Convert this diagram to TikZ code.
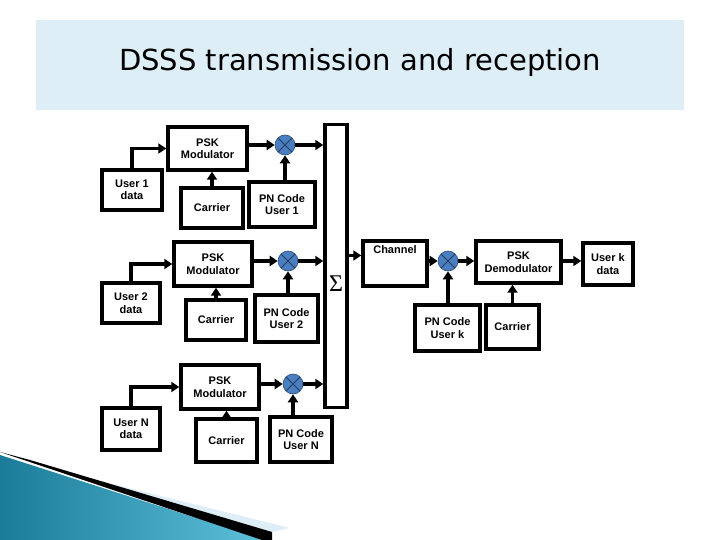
\documentclass[tikz,border=0pt]{standalone}
\usepackage{fontspec}
\setmainfont{Liberation Sans}
\newfontfamily\titlefont{DejaVu Sans}
\newfontfamily\sigfont{Liberation Serif}
\usetikzlibrary{arrows.meta}
\definecolor{band}{HTML}{DDEEF6}
\definecolor{mix}{HTML}{4A7EC0}
\definecolor{tealA}{HTML}{1A7C98}
\definecolor{tealB}{HTML}{5FC0DC}
\begin{document}
\begin{tikzpicture}[x=1pt,y=-1pt,
 blk/.style={draw,line width=3.4pt,fill=white,align=center,inner sep=0pt,font=\bfseries\fontsize{11}{12.5}\selectfont},
 mixer/.style={circle,draw=mix!60!black,fill=mix,minimum size=20pt,inner sep=0pt,line width=0.6pt,
   path picture={\draw[mix!50!black,line width=0.8pt] (path picture bounding box.north west) -- (path picture bounding box.south east) (path picture bounding box.north east) -- (path picture bounding box.south west);}},
 arr/.style={line width=3.2pt,-{Triangle[length=8pt,width=10pt]}}]
\useasboundingbox (0,0) rectangle (720,540);
\fill[band] (36,20) rectangle (684,110);
\node[font=\titlefont\fontsize{29}{32}\selectfont] (title) at (360,63) {DSSS transmission and reception};
% decoration
\shade[left color=tealA,right color=tealB] (0,455) -- (265,540) -- (0,540) -- cycle;
\fill[band] (40,466) -- (290,528) -- (272,532) -- cycle;
\fill[black] (0,452) -- (30,460) -- (272,532) -- (272,540) -- (262,540) -- cycle;
\def\bx#1#2#3#4#5#6{\node[blk,minimum width=#4-#2,minimum height=#5-#3] (#1) at ({(#2+#4)/2},{(#3+#5)/2}) {#6};}
% Transmitter 1
\bx{d1}{102}{170}{162}{210}{User 1\\data}
\bx{m1}{168}{127}{247}{170}{PSK\\Modulator}
\bx{c1}{181}{188}{243}{228}{Carrier}
\bx{p1}{249}{182}{315}{227}{PN Code\\User 1}
\node[mixer] (x1) at (285,145) {};
% Transmitter 2
\bx{d2}{102}{283}{160}{323}{User 2\\data}
\bx{m2}{174}{242}{252}{286}{PSK\\Modulator}
\bx{c2}{186}{300}{246}{340}{Carrier}
\bx{p2}{255}{295}{318}{342}{PN Code\\User 2}
\node[mixer] (x2) at (288,261) {};
% Transmitter N
\bx{d3}{102}{408}{160}{450}{User N\\data}
\bx{m3}{181}{365}{259}{409}{PSK\\Modulator}
\bx{c3}{196}{419}{257}{462}{Carrier}
\bx{p3}{270}{417}{332}{462}{PN Code\\User N}
\node[mixer] (x3) at (293,384) {};
% Sum bar
\node[draw,line width=3.4pt,minimum width=22pt,minimum height=283pt,inner sep=0pt] (sum) at (336,266) {};
\node[font=\sigfont\fontsize{24}{24}\selectfont,inner sep=0pt] (sig) at (336,284) {Σ};
% Receiver
\bx{ch}{363}{241}{427}{286}{Channel\\[16pt]}
\node[mixer] (xr) at (448,261) {};
\bx{dm}{476}{241}{561}{283}{PSK\\Demodulator}
\bx{uk}{583}{243}{633}{285}{User k\\data}
\bx{pk}{415}{305}{480}{351}{PN Code\\User k}
\bx{ck}{486}{305}{539}{349}{Carrier}
% arrows tx
\foreach \i in {1,2,3}{
 \draw[arr] (d\i.north) |- (m\i.west);
 \draw[arr] (c\i.north) -- (c\i.north|-m\i.south);
 \draw[arr] (m\i.east|-x\i) -- (x\i.west);
 \draw[arr] (p\i.north-|x\i) -- (x\i.south);
 \draw[arr] (x\i.east) -- (x\i.east-|sum.west);
}
\draw[arr] (sum.east|-ch.west) ++(0,-8) coordinate (s0) -- (s0-|ch.west);
\draw[arr] (ch.east|-xr) -- (xr.west);
\draw[arr] (xr.east) -- (xr.east-|dm.west);
\draw[arr] (dm.east|-xr) -- (xr-|uk.west);
\draw[arr] (pk.north-|xr) -- (xr.south);
\draw[arr] (ck.north) -- (ck.north|-dm.south);
\end{tikzpicture}
\end{document}
